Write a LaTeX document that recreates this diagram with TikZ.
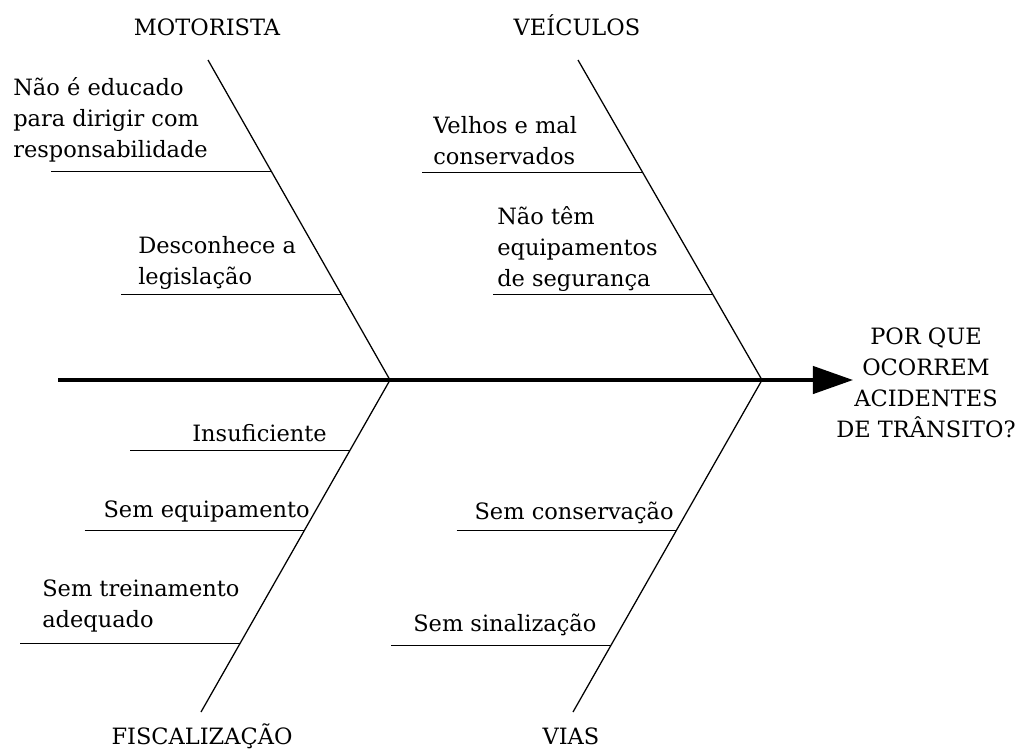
\documentclass[tikz,border=0pt]{standalone}
\usepackage{fontspec}
\setmainfont{DejaVu Serif}
\usetikzlibrary{arrows.meta,positioning,calc}

\begin{document}
\begin{tikzpicture}[x=0.025cm,y=-0.025cm]
    \tikzset{
        spine/.style={line width=2.6pt,-{Triangle[length=1cm,width=0.68cm]}},
        bone/.style={line width=0.9pt},
        twig/.style={line width=0.6pt},
        cause/.style={inner sep=0pt,text depth=0pt,align=left,
            font=\fontsize{16}{22}\selectfont},
        group/.style={inner sep=0pt,font=\fontsize{16}{22}\selectfont},
    }
    \useasboundingbox (0,0) rectangle (1020,752);

    % spine and effect
    \coordinate (tail) at (58,380);
    \coordinate (jm) at (390,380);
    \coordinate (jv) at (762,380);
    \coordinate (head) at (853,380);
    \draw[spine] (tail) -- (head);
    \node[group,text depth=0pt,align=center] (effect) at (926,383)
        {POR QUE\\OCORREM\\ACIDENTES\\DE TRÂNSITO?};

    % groups
    \coordinate (mtop) at (208,60);
    \coordinate (vtop) at (578,60);
    \coordinate (fbot) at (201,712);
    \coordinate (vbot) at (573,712);
    \node[group,anchor=base] (motorista) at (207,35) {MOTORISTA};
    \node[group,anchor=base] (veiculos) at (577,35) {VEÍCULOS};
    \node[group,anchor=base] (fiscal) at (202,744) {FISCALIZAÇÃO};
    \node[group,anchor=base] (vias) at (571,744) {VIAS};
    \draw[bone] (mtop) -- (jm);
    \draw[bone] (vtop) -- (jv);
    \draw[bone] (jm) -- (fbot);
    \draw[bone] (jv) -- (vbot);

    % cause lines
    \foreach \a/\b/\f/\n in {mtop/jm/0.347/m1, mtop/jm/0.731/m2,
        vtop/jv/0.350/v1, vtop/jv/0.734/v2,
        jm/fbot/0.211/f1, jm/fbot/0.452/f2, jm/fbot/0.792/f3,
        jv/vbot/0.452/r1, jv/vbot/0.798/r2}
    {
        \coordinate (\n) at ($(\a)!\f!(\b)$);
        \coordinate (\n-end) at ($(\n)+(-220,0)$);
        \draw[twig] (\n-end) -- (\n);
    }

    % causes
    \node[cause,anchor=south west] (educado) at (13,158)
        {Não é educado\\para dirigir com\\responsabilidade};
    \node[cause,anchor=south west] (legis) at (138,285)
        {Desconhece a\\legislação};
    \node[cause,anchor=south west] (velhos) at (433,165)
        {Velhos e mal\\conservados};
    \node[cause,anchor=south west] (equip) at (497,287)
        {Não têm\\equipamentos\\de segurança};
    \node[cause,anchor=south east] (insuf) at (327,442) {Insuficiente};
    \node[cause,anchor=south east] (semequip) at (310,518) {Sem equipamento};
    \node[cause,anchor=south west] (treino) at (42,628)
        {Sem treinamento\\adequado};
    \node[cause,anchor=south east] (conserv) at (674,520) {Sem conservação};
    \node[cause,anchor=south west] (sinal) at (413,632) {Sem sinalização};
\end{tikzpicture}
\end{document}
